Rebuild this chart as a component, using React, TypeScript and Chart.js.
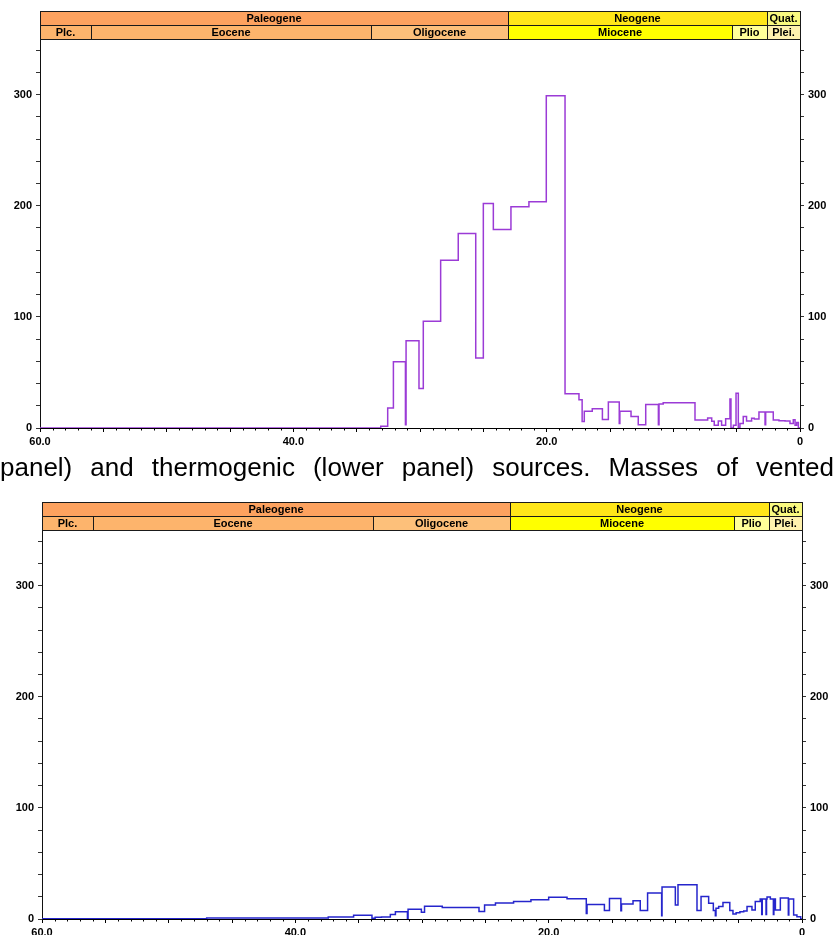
import React, { useEffect, useRef } from 'react';
import { Chart, registerables } from 'chart.js';

Chart.register(...registerables);

const FONT = "'Liberation Sans', Arial, Helvetica, sans-serif";

// Upper panel (purple): age (Ma) at which each step starts, and its value
const upperAges = [60, 33.1, 32.55, 32.1, 31.15, 31.1, 30.08, 29.74, 28.37, 26.98, 25.6, 25.0, 24.21, 22.82, 21.4, 20.03, 18.55, 17.45, 17.2, 17.03, 16.4, 15.6, 15.13, 14.27, 14.22, 13.34, 12.77, 12.18, 11.18, 11.13, 10.8, 8.29, 7.29, 6.97, 6.77, 6.45, 6.19, 5.87, 5.53, 5.45, 5.26, 5.05, 4.87, 4.74, 4.48, 4.22, 3.82, 3.61, 3.24, 2.76, 2.71, 2.11, 1.66, 1.18, 0.79, 0.53, 0.39, 0.26, 0.13, 0];
const upperValues = [0, 1.5, 18, 59.5, 3, 78.6, 35.5, 96, 151, 175, 63, 202, 178.5, 199, 203.5, 299, 30.8, 25.5, 5.8, 15, 17.3, 7.7, 23.3, 4, 15, 10.4, 2.9, 21.2, 3, 21.5, 22.8, 7.3, 9, 6, 2.5, 6.3, 2.5, 8.3, 26.2, 0, 2.5, 31.3, 0.5, 4, 10.4, 6.3, 8.8, 8, 14.3, 3, 14.3, 7.3, 6.5, 6.2, 4, 7.5, 2.5, 5, 0, 0];

// Lower panel (blue)
const lowerAges = [60, 47, 39.6, 37.4, 35.4, 33.95, 33.7, 33.2, 32.5, 32.1, 31.15, 31.1, 30.05, 29.8, 28.4, 25.5, 25.06, 24.2, 22.77, 21.4, 20.0, 18.55, 17.03, 16.97, 15.6, 15.2, 14.3, 14.25, 13.34, 12.77, 12.19, 11.08, 11.05, 10.0, 9.79, 8.29, 7.97, 7.37, 7.0, 6.84, 6.79, 6.58, 6.24, 5.7, 5.45, 5.2, 4.9, 4.6, 4.34, 3.95, 3.69, 3.3, 3.18, 3.14, 2.84, 2.8, 2.76, 2.5, 2.26, 2.22, 2.1, 1.71, 1.08, 1.04, 0.66, 0.4, 0.1, 0];
const lowerValues = [0.3, 0.8, 0.8, 1.8, 3.3, 0.6, 1.5, 1.8, 4, 6.5, 0, 8.8, 6.1, 11.5, 10.3, 6.7, 12.7, 14.5, 15.8, 17.3, 19.5, 18.2, 5, 13, 7.6, 18.5, 7.5, 13.5, 16.5, 7.6, 23.3, 3, 28.8, 12.7, 30.9, 7.6, 20.3, 14.2, 7.6, 3, 9.7, 11.2, 14.8, 7.6, 4.5, 5.7, 6.5, 7.3, 11.2, 8.2, 15.8, 17.9, 4, 17.9, 4, 17.9, 19.7, 17.9, 4, 17.9, 8.2, 18.8, 3.6, 17.9, 3.6, 2.1, 0, 0];

// Axis ticks
const yTickValues = [0, 20, 40, 60, 80, 100, 120, 140, 160, 180, 200, 220, 240, 260, 280, 300, 320, 340];
const yLabelValues = [0, 100, 200, 300];
const xMajorTicks = [60, 55, 50, 45, 40, 35, 30, 25, 20, 15, 10, 5, 0];
const xLabelValues = [60, 40, 20, 0];
const xLabelTexts = ['60.0', '40.0', '20.0', '0'];

// Geologic time scale
const periodNames = ['Paleogene', 'Neogene', 'Quat.'];
const periodStarts = [66, 23.03, 2.58];
const periodEnds = [23.03, 2.58, 0];
const periodColors = ['#FDA25F', '#FFE619', '#F9F97F'];
const epochNames = ['Plc.', 'Eocene', 'Oligocene', 'Miocene', 'Plio', 'Plei.'];
const epochStarts = [66, 56, 33.9, 23.03, 5.33, 2.58];
const epochEnds = [56, 33.9, 23.03, 5.33, 2.58, 0];
const epochColors = ['#FDB46C', '#FDB46C', '#FDC07A', '#FFFF00', '#FFFF99', '#FFF2AE'];

const caption = 'panel) and thermogenic (lower panel) sources. Masses of vented';

const timeBarPlugin = {
  id: 'timeBar',
  afterDraw(chart: any) {
    const { ctx, chartArea, scales } = chart;
    const xs = scales.x;
    const rowH = 14;
    const top0 = chartArea.top - 2 * rowH;
    const px = (ma: number) => Math.round(xs.getPixelForValue(Math.min(Math.max(ma, 0), 60)));
    const drawRow = (names: string[], starts: number[], ends: number[], colors: string[], y: number) => {
      ctx.save();
      names.forEach((n, i) => {
        const x1 = px(starts[i]);
        const x2 = px(ends[i]);
        ctx.fillStyle = colors[i];
        ctx.fillRect(x1, y, x2 - x1, rowH);
        ctx.strokeStyle = '#1a1a1a';
        ctx.lineWidth = 1;
        ctx.strokeRect(x1 + 0.5, y + 0.5, x2 - x1, rowH);
        ctx.fillStyle = '#000';
        ctx.font = `bold 11px ${FONT}`;
        ctx.textAlign = 'center';
        ctx.textBaseline = 'middle';
        ctx.fillText(n, (x1 + x2) / 2, y + rowH / 2 + 1);
      });
      ctx.restore();
    };
    drawRow(periodNames, periodStarts, periodEnds, periodColors, top0);
    drawRow(epochNames, epochStarts, epochEnds, epochColors, top0 + rowH);
  },
};

const minorTickPlugin = {
  id: 'minorTicks',
  afterDraw(chart: any) {
    const { ctx, chartArea, scales } = chart;
    const xs = scales.x;
    ctx.save();
    ctx.strokeStyle = '#000';
    ctx.lineWidth = 1;
    ctx.beginPath();
    for (let m = 0; m <= 60; m++) {
      if (m % 5 === 0) continue;
      const x = Math.round(xs.getPixelForValue(m)) + 0.5;
      ctx.moveTo(x, chartArea.bottom);
      ctx.lineTo(x, chartArea.bottom + 2.5);
    }
    ctx.stroke();
    ctx.restore();
  },
};

function yAxis(position: 'left' | 'right', width: number) {
  return {
    type: 'linear',
    position,
    min: 0,
    max: 350,
    afterBuildTicks(s: any) {
      s.ticks = yTickValues.map((v) => ({ value: v }));
    },
    afterFit(s: any) {
      s.width = width;
    },
    ticks: {
      callback: (v: number) => (yLabelValues.includes(v) ? String(v) : ''),
      font: { family: FONT, size: 11, weight: 'bold' },
      color: '#000',
      padding: 4,
      autoSkip: false,
    },
    grid: { drawOnChartArea: false, tickLength: 4, tickColor: '#333', color: '#333' },
    border: { color: '#111', width: 1 },
  };
}

function makeConfig(ages: number[], values: number[], color: string, leftW: number, rightW: number) {
  return {
    type: 'line',
    data: {
      datasets: [
        {
          data: ages.map((a, i) => ({ x: a, y: values[i] })),
          borderColor: color,
          borderWidth: 1.5,
          pointRadius: 0,
          stepped: true,
          fill: false,
          xAxisID: 'x',
          yAxisID: 'y',
        },
      ],
    },
    options: {
      animation: false,
      responsive: false,
      maintainAspectRatio: false,
      layout: { padding: { top: 39, left: 0, right: 0, bottom: 0 } },
      plugins: { legend: { display: false }, tooltip: { enabled: false }, title: { display: false } },
      scales: {
        x: {
          type: 'linear',
          min: 0,
          max: 60,
          reverse: true,
          afterBuildTicks(s: any) {
            s.ticks = xMajorTicks.map((v) => ({ value: v }));
          },
          afterFit(s: any) {
            s.height = 27;
          },
          ticks: {
            callback: (v: number) => {
              const i = xLabelValues.indexOf(v);
              return i >= 0 ? xLabelTexts[i] : '';
            },
            font: { family: FONT, size: 11, weight: 'bold' },
            color: '#000',
            padding: 3,
            maxRotation: 0,
            autoSkip: false,
          },
          grid: { drawOnChartArea: false, tickLength: 4, tickColor: '#000', color: '#000' },
          border: { color: '#000', width: 1 },
        },
        y: yAxis('left', leftW),
        y2: yAxis('right', rightW),
      },
    },
    plugins: [timeBarPlugin, minorTickPlugin],
  };
}

function Panel({ top, config }: { top: number; config: any }) {
  const ref = useRef<HTMLCanvasElement | null>(null);
  useEffect(() => {
    if (!ref.current) return;
    const chart = new Chart(ref.current, config);
    return () => chart.destroy();
  }, [config]);
  return (
    <canvas
      ref={ref}
      width={834}
      height={455}
      style={{ position: 'absolute', left: 0, top, width: 834, height: 455 }}
    />
  );
}

const upperConfig = makeConfig(upperAges, upperValues, '#9B3BD6', 40, 34);
const lowerConfig = makeConfig(lowerAges, lowerValues, '#2525CC', 42, 32);

export default function App() {
  return (
    <div
      style={{
        position: 'fixed',
        left: 0,
        top: 0,
        width: 834,
        height: 935,
        overflow: 'hidden',
        background: '#fff',
      }}
    >
      <Panel top={0} config={upperConfig} />
      <div
        style={{
          position: 'absolute',
          left: 0,
          top: 452,
          width: 834,
          fontFamily: FONT,
          fontSize: 26,
          color: '#000',
          textAlign: 'justify',
          textAlignLast: 'justify' as any,
          lineHeight: 'normal',
          whiteSpace: 'normal',
        }}
      >
        {caption}
      </div>
      <Panel top={491} config={lowerConfig} />
    </div>
  );
}
